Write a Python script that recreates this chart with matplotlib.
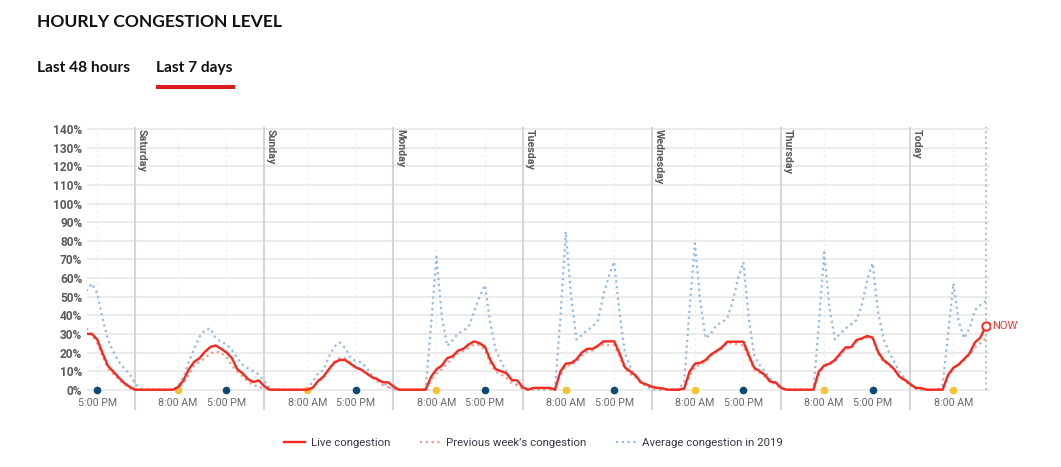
import matplotlib
matplotlib.use("Agg")
import matplotlib.pyplot as plt
from matplotlib.lines import Line2D
from matplotlib.patches import Rectangle
import numpy as np

# ---------------- data (hourly, from Friday 15:00 to Today 14:00) ----------------
start_hour = -9   # hours relative to Saturday 00:00
live_congestion = [
    30, 30, 27, 19.5, 12.7, 9.7, 6.5, 3.6, 1.6,                                   # Fri
    0, 0, 0, 0, 0, 0, 0, 0, 1.4, 5, 11, 15, 17, 20.4, 23, 23.8, 22, 20, 17, 11, 8.8, 5.7, 4.1, 5,  # Sat
    2, 0, 0, 0, 0, 0, 0, 0, 0, 1, 4.7, 7, 11, 14.5, 16, 16, 14, 12, 10.8, 8.8, 6.8, 5.6, 4, 4,    # Sun
    1.8, 0, 0, 0, 0, 0, 0, 7, 11, 13, 17, 18, 21, 22, 24.4, 26, 25, 23, 16, 11, 10, 8.8, 5.2, 5,  # Mon
    1.3, 0, 1, 1, 1, 1, 0, 9.7, 14, 14.3, 16.3, 20, 22, 22, 23.7, 26, 26, 26, 19.5, 12, 9.8, 7.6, 3.9, 2.8,  # Tue
    1.6, 1, 0.7, 0, 0, 0, 0.7, 9.7, 14, 14.5, 16, 19, 20.8, 22.8, 25.8, 25.8, 25.8, 25.8, 18.6, 11.8, 10, 7.9, 4.3, 3.9,  # Wed
    1, 0, 0, 0, 0, 0, 0, 9.7, 13, 14, 16, 19.5, 22.8, 22.8, 26.7, 27.6, 28.9, 28, 20.4, 16, 13.8, 11, 7, 5.2,  # Thu
    3, 1, 0.9, 0, 0, 0, 0, 7.9, 11.8, 13.6, 16.5, 19.5, 25.4, 28, 34,            # Today
]
previous_week = [
    33, 29.4, 25, 17.7, 11.5, 8.4, 5.6, 2.9, 0.7,
    0, 0, 0, 0, 0, 0, 0, 0, 0.7, 3.4, 8.2, 13, 15, 17, 19.5, 20.4, 20, 17.7, 13, 9.7, 7, 4.3, 2.5, 1.6,
    0.5, 0, 0, 0, 0, 0, 0, 0, 0, 1, 4, 6.5, 10.6, 15, 17, 17, 14.7, 12.4, 10.6, 8.8, 6.5, 4.7, 2.5, 1.4,
    0.4, 0, 0, 0, 0, 0, 0, 5, 8.8, 11, 14, 17, 19.5, 20.8, 22.6, 24.4, 24, 21.3, 14, 9.7, 8.2, 6.5, 3.4, 2.2,
    0.7, 0, 0.3, 0.3, 0.3, 0.3, 0, 7.9, 13, 13, 15.4, 18.3, 20.4, 21, 23, 24, 24, 24, 17.7, 11, 8.4, 6.5, 3.4, 2.3,
    1.2, 0.6, 0, 0, 0, 0, 0, 7.9, 12.4, 13.3, 15, 18.3, 20.4, 21.9, 25, 25, 24.4, 23.7, 17, 10.6, 9, 7, 3.9, 2.9,
    0.9, 0, 0, 0, 0, 0, 0, 8.8, 12.4, 13.6, 15.4, 18.6, 21.9, 22.2, 25.8, 27.2, 28, 27.6, 19.5, 15, 13.3, 10.6, 6.6, 4.7,
    2.5, 0.7, 0, 0, 0, 0, 0, 7, 11.5, 13.3, 16, 19, 22.6, 25, 27.6,
]
average_2019 = [
    53, 57, 51.8, 38, 26.7, 20.4, 15, 11.5, 8.4,
    3.4, 0.7, 0, 0, 0, 0, 0, 0, 1.6, 7, 15, 22, 28.5, 32, 33, 27.6, 25.8, 24.4, 21.3, 17, 13.3, 11.5, 10, 8.2,
    4.5, 1, 0, 0, 0, 0, 0, 0, 0, 4.3, 8.8, 10.6, 17.7, 23, 25.4, 22.6, 17.2, 15.4, 14.7, 11.8, 7.9, 6.1, 4.3, 1.6,
    0.4, 0, 0, 0, 0, 0, 0.7, 35, 71.5, 39, 23.5, 26.7, 30.3, 31.7, 33.9, 42, 50, 56.3, 35.7, 21.3, 15, 9.7, 5.2, 2.5,
    1.3, 0, 0, 0, 0, 0, 0, 38, 85, 50, 27, 29.4, 32, 33.9, 37.5, 51, 60.8, 68.8, 41, 19.5, 12.4, 7, 3.8, 1.6,
    0.4, 0, 0, 0, 0, 0, 4.3, 43.7, 78.7, 47, 27.6, 30.3, 34.8, 36.2, 38.4, 47.3, 59.9, 68.5, 38.4, 18.6, 13.3, 9.7, 6.1, 3.4,
    0.7, 0, 0, 0, 0, 0, 0, 34.8, 73.8, 43.7, 27, 30.3, 33, 35.1, 37.5, 45.5, 59, 68, 42, 27.6, 20.4, 15, 9.7, 6.1,
    2.5, 0.7, 0, 0, 0, 0, 2.5, 29.4, 57.2, 36.6, 27.6, 33, 42.8, 45.5, 47.7,
]
day_names = ["Saturday", "Sunday", "Monday", "Tuesday", "Wednesday", "Thursday", "Today"]
day_starts = [0, 24, 48, 72, 96, 120, 144]
tick_hours = [-7, 8, 17, 32, 41, 56, 65, 80, 89, 104, 113, 128, 137, 152]
tick_labels = ["5:00 PM", "8:00 AM", "5:00 PM", "8:00 AM", "5:00 PM", "8:00 AM", "5:00 PM",
               "8:00 AM", "5:00 PM", "8:00 AM", "5:00 PM", "8:00 AM", "5:00 PM", "8:00 AM"]
y_ticks = [0, 10, 20, 30, 40, 50, 60, 70, 80, 90, 100, 110, 120, 130, 140]

hours = np.arange(start_hour, start_hour + len(live_congestion))

# ---------------- styling ----------------
RED = "#f8281c"
PINK = "#f29a96"
BLUE = "#93b9e6"
YELLOW = "#f7c335"
NAVY = "#0c4a74"
GRID = "#e9e9e9"

plt.rcParams["font.family"] = ["Roboto", "DejaVu Sans"]

W, H = 1061, 467
fig = plt.figure(figsize=(W / 100, H / 100), dpi=100)
fig.patch.set_facecolor("white")

# axes geometry in pixels
ax_left, ax_right, ax_top, ax_bottom = 86.5, 990.0, 127.0, 410.0
ax = fig.add_axes([ax_left / W, 1 - ax_bottom / H, (ax_right - ax_left) / W, (ax_bottom - ax_top) / H])
ax.set_xlim(-9.0, 158.8)
ax.set_ylim(-10.9, 141.2)
for s in ax.spines.values():
    s.set_visible(False)

# gridlines
for v in y_ticks:
    ax.axhline(v, color=GRID, lw=1.3, zorder=1)
for d in day_starts:
    ax.axvline(d, color="#d4d4d4", lw=1.5, zorder=1)
ax.vlines(tick_hours, 0, 140, colors="#ececec", linestyles=(0, (2, 3)), lw=0.8, zorder=1)
ax.vlines(hours[-1], 0, 141, colors="#b0b0b0", linestyles=(0, (1.5, 2)), lw=1.1, zorder=1)

# markers at 8AM / 5PM
for h, lab in zip(tick_hours, tick_labels):
    ax.plot(h, 0, "o", ms=5.5, color=YELLOW if lab.startswith("8") else NAVY,
            mec="none", zorder=2)

# series
ax.plot(hours, average_2019, color=BLUE, lw=1.6, ls=(0, (1, 1.6)), zorder=3)
ax.plot(hours, previous_week, color=PINK, lw=1.6, ls=(0, (1, 1.6)), zorder=4)
ax.plot(hours, live_congestion, color=RED, lw=1.7, zorder=5, solid_joinstyle="round")
ax.plot(hours[-1], live_congestion[-1], "o", ms=6, mfc="white", mec=RED, mew=1.4, zorder=6)
ax.text(hours[-1] + 1.2, live_congestion[-1], "NOW", color="#f2382c", fontsize=8,
        va="center", ha="left", zorder=6)

# y ticks
ax.set_yticks(y_ticks)
ax.set_yticklabels([f"{v}%" for v in y_ticks], fontsize=8.6, fontweight="bold", color="#5a5a5a")
ax.tick_params(axis="y", length=0, pad=3)
ax.set_xticks([])

# x tick labels
for h, lab in zip(tick_hours, tick_labels):
    ax.text(h, -7.2, lab, ha="center", va="center", fontsize=7.7, color="#6a6a6a")

# day labels
for d, name in zip(day_starts, day_names):
    ax.text(d + 0.3, 140.3, name, rotation=270, ha="left", va="top", fontsize=7.7,
            fontweight="bold", color="#5a5a5a")

# title and tabs
fig.text(37 / W, 1 - 22 / H, "HOURLY CONGESTION LEVEL", fontsize=12.6, fontweight="bold",
         family=["Lato", "DejaVu Sans"], color="#111111", ha="left", va="center")
fig.text(37 / W, 1 - 68 / H, "Last 48 hours", fontsize=11.2, fontweight="bold",
         family=["Lato", "DejaVu Sans"], color="#111111", ha="left", va="center")
fig.text(156 / W, 1 - 68 / H, "Last 7 days", fontsize=11.2, fontweight="bold",
         family=["Lato", "DejaVu Sans"], color="#111111", ha="left", va="center")
fig.add_artist(Rectangle((156 / W, 1 - 89 / H), 79 / W, 4 / H, transform=fig.transFigure,
                         color="#d81e1a", lw=0))

# legend
handles = [
    Line2D([], [], color=RED, lw=1.7),
    Line2D([], [], color=PINK, lw=1.6, ls=(0, (1, 1.6))),
    Line2D([], [], color=BLUE, lw=1.6, ls=(0, (1, 1.6))),
]
labels = ["Live congestion", "Previous week\u2019s congestion", "Average congestion in 2019"]
leg = fig.legend(handles, labels, loc="center", bbox_to_anchor=(533.5 / W, 1 - 443 / H),
                 ncol=3, frameon=False, fontsize=8.2, handlelength=1.8, handletextpad=0.5,
                 columnspacing=2.6)
for t in leg.get_texts():
    t.set_color("#3b3548")

fig.savefig("out.png", dpi=100)
